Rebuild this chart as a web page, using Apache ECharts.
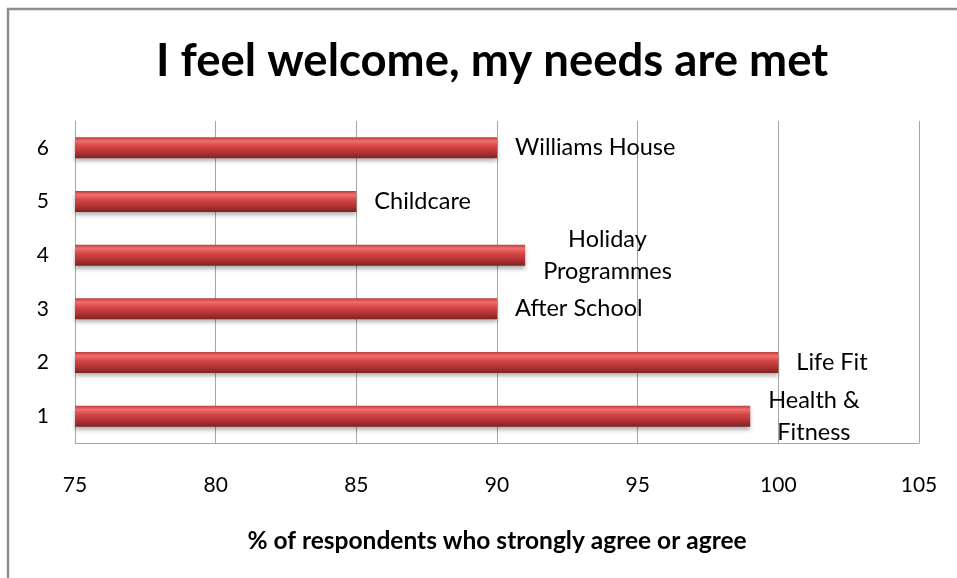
<!DOCTYPE html>
<html>
<head>
<meta charset="utf-8">
<script src="https://cdn.jsdelivr.net/npm/echarts@6/dist/echarts.min.js"></script>
<style>
  html, body { margin: 0; padding: 0; background: #ffffff; }
  #chart { width: 957px; height: 578px; }
</style>
</head>
<body>
<div id="chart"></div>
<script>
// Service categories, listed bottom to top on the vertical axis
const categories = ['1', '2', '3', '4', '5', '6'];
// Percentage of respondents who strongly agree or agree
const values = [99, 100, 90, 91, 85, 90];
// Service names shown beside each bar
const serviceNames = ['Health &\nFitness', 'Life Fit', 'After School', 'Holiday\nProgrammes', 'Childcare', 'Williams House'];

const FONT = 'Lato, "Noto Sans", sans-serif';

const chart = echarts.init(document.getElementById('chart'), null, { renderer: 'canvas' });

// Rounded-tube look for the bars: light band near the top, dark underside
const barGradient = new echarts.graphic.LinearGradient(0, 0, 0, 1, [
  { offset: 0.0, color: '#c03c3c' },
  { offset: 0.18, color: '#ee7070' },
  { offset: 0.4, color: '#d84848' },
  { offset: 0.7, color: '#b43434' },
  { offset: 1.0, color: '#7e2222' }
]);

chart.setOption({
  backgroundColor: '#ffffff',
  animation: false,
  title: {
    text: 'I feel welcome, my needs are met',
    left: 151,
    top: 33,
    textStyle: { fontFamily: FONT, fontWeight: 'bold', fontSize: 45.5, color: '#000000' }
  },
  graphic: [{
    type: 'rect',
    shape: { x: 8, y: 9, width: 1000, height: 700 },
    style: { fill: 'none', stroke: '#8e8e8e', lineWidth: 2.5 },
    silent: true,
    z: 100
  }],
  grid: { left: 75, right: 38, top: 121, bottom: 135, containLabel: false },
  xAxis: {
    type: 'value',
    min: 75,
    max: 105,
    interval: 5,
    name: '% of respondents who strongly agree or agree',
    nameLocation: 'middle',
    nameGap: 86,
    nameTextStyle: { fontFamily: FONT, fontWeight: 'bold', fontSize: 24.5, color: '#000000' },
    axisLine: { show: true, lineStyle: { color: '#a6a6a6', width: 1 } },
    axisTick: { show: false },
    axisLabel: { margin: 32, fontFamily: FONT, fontSize: 21, color: '#000000' },
    splitLine: { show: true, lineStyle: { color: '#a6a6a6', width: 1 } }
  },
  yAxis: {
    type: 'category',
    data: categories,
    axisLine: { show: true, lineStyle: { color: '#a6a6a6', width: 1 } },
    axisTick: { show: false },
    axisLabel: { margin: 26, fontFamily: FONT, fontSize: 21, color: '#000000' },
    splitLine: { show: false }
  },
  series: [{
    type: 'bar',
    data: values,
    barWidth: 21,
    itemStyle: {
      color: barGradient,
      shadowColor: 'rgba(0,0,0,0.3)',
      shadowBlur: 4,
      shadowOffsetY: 3
    },
    label: {
      show: true,
      position: 'right',
      distance: 18,
      formatter: (p) => serviceNames[p.dataIndex].split('\n').map(s => '{c|' + s + '}').join('\n'),
      rich: {
        c: { fontFamily: FONT, fontSize: 23.5, color: '#000000', align: 'center', lineHeight: 32 }
      }
    }
  }]
});
</script>
</body>
</html>
